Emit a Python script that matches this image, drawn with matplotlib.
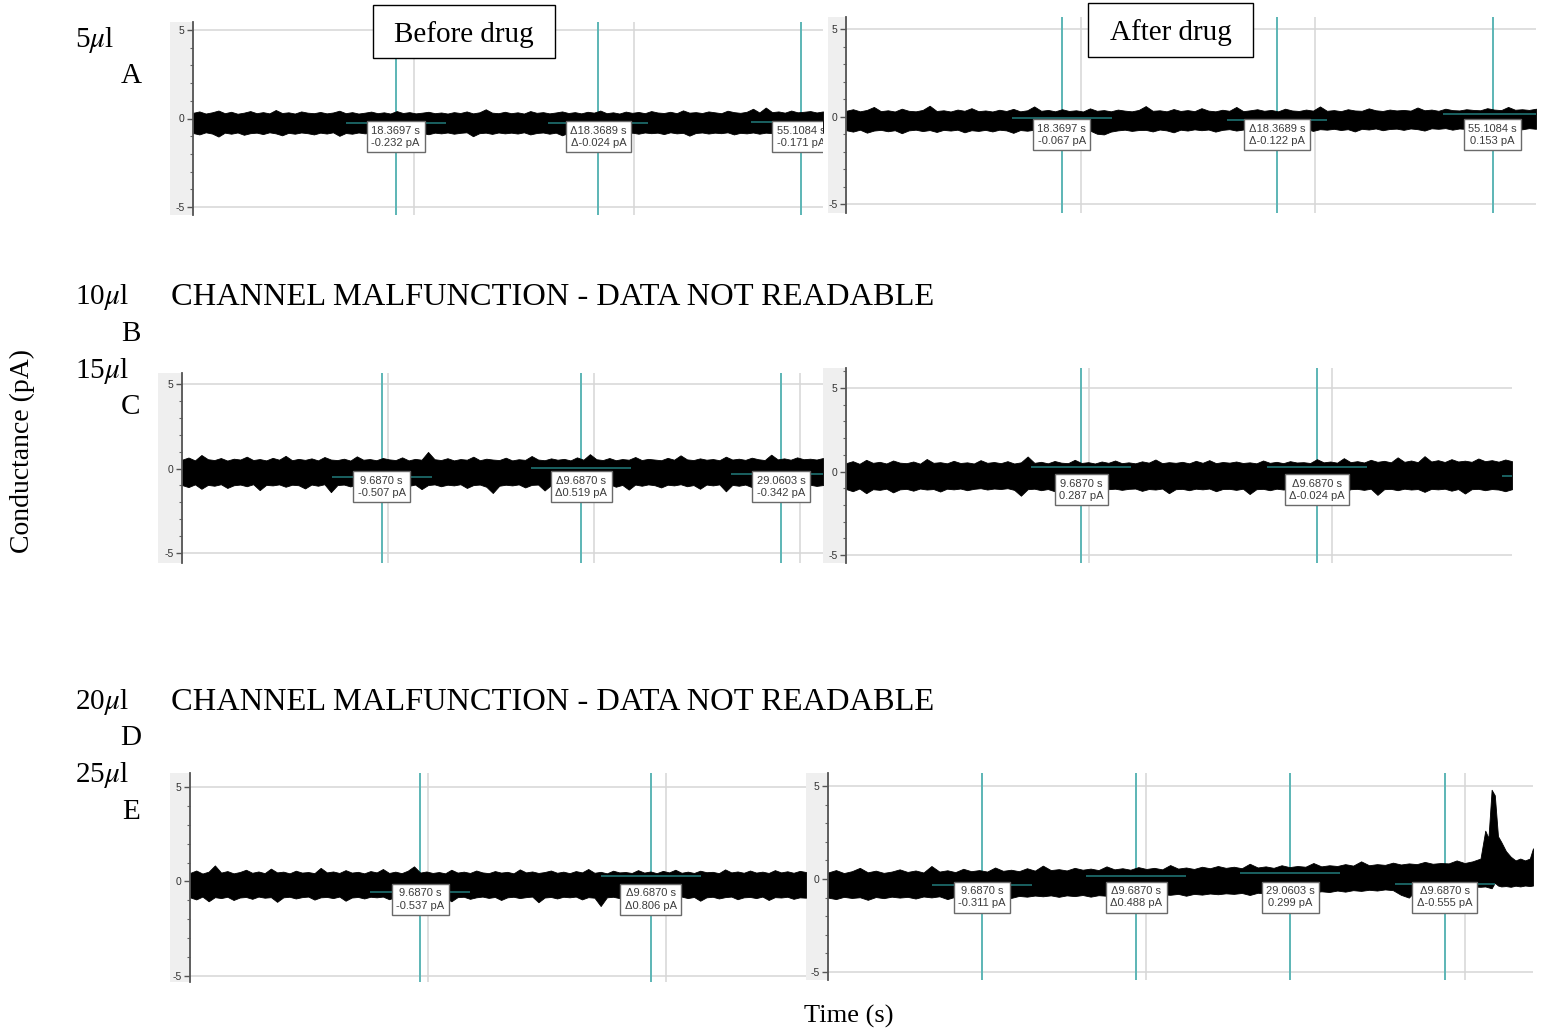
import numpy as np
import matplotlib
matplotlib.use("Agg")
import matplotlib.pyplot as plt
from matplotlib.patches import Rectangle
from matplotlib.ticker import MultipleLocator

plt.rcParams['mathtext.fontset'] = 'stix'
SERIF = ['Liberation Serif', 'DejaVu Serif']
SANS = ['Liberation Sans', 'DejaVu Sans']

# ---------------- data ----------------
# 5 ul, before drug : upper / lower envelope of the current trace (pA)
AL_T = 57.1
AL_up = [0.32,0.40,0.28,0.35,0.45,0.30,0.38,0.27,0.33,0.42,
         0.30,0.36,0.29,0.48,0.31,0.35,0.28,0.40,0.33,0.30,
         0.37,0.29,0.34,0.44,0.30,0.36,0.28,0.33,0.39,0.30,
         0.35,0.28,0.42,0.31,0.36,0.29,0.33,0.38,0.30,0.34,
         0.28,0.36,0.31,0.40,0.29,0.35,0.52,0.33,0.30,0.38,
         0.30,0.35,0.28,0.42,0.32,0.36,0.29,0.34,0.40,0.31,
         0.36,0.29,0.38,0.33,0.45,0.30,0.35,0.28,0.39,0.32,
         0.37,0.30,0.42,0.34,0.31,0.38,0.30,0.46,0.33,0.36,
         0.31,0.40,0.35,0.30,0.44,0.36,0.32,0.38,0.55,0.34,
         0.62,0.36,0.40,0.33,0.45,0.35,0.38,0.42,0.34,0.40]
AL_lo = [-0.82,-0.90,-0.78,-0.85,-1.02,-0.80,-0.86,-0.79,-0.92,-0.83,
         -0.80,-0.88,-0.78,-0.84,-0.95,-0.81,-0.86,-0.79,-0.83,-0.90,
         -0.80,-0.85,-0.78,-0.98,-0.82,-0.86,-0.79,-0.84,-0.80,-0.88,
         -0.78,-0.83,-0.93,-0.80,-0.85,-0.78,-0.82,-0.89,-0.80,-0.84,
         -0.79,-0.86,-0.81,-0.78,-1.00,-0.83,-0.80,-0.87,-0.79,-0.84,
         -0.80,-0.85,-0.78,-0.90,-0.82,-0.79,-0.86,-0.80,-0.95,-0.81,
         -0.84,-0.78,-0.83,-0.88,-0.80,-0.85,-0.79,-0.82,-0.92,-0.80,
         -0.86,-0.79,-0.83,-0.80,-0.88,-0.78,-0.84,-0.81,-0.97,-0.82,
         -0.79,-0.85,-0.80,-0.83,-0.78,-0.90,-0.81,-0.84,-0.79,-0.86,
         -0.80,-0.83,-0.88,-0.79,-0.84,-0.80,-0.92,-0.82,-0.85,-0.80]
AL_cur_t = [18.3697, 36.7386, 55.1084]
AL_cur_v = [-0.232, -0.256, -0.171]
AL_cur_lab = ["18.3697 s\n-0.232 pA", "\u039418.3689 s\n\u0394-0.024 pA", "55.1084 s\n-0.171 pA"]

# 5 ul, after drug
AR_T = 58.8
AR_up = [0.33,0.42,0.30,0.38,0.55,0.31,0.36,0.29,0.45,0.33,
         0.30,0.38,0.62,0.32,0.36,0.29,0.40,0.33,0.48,0.31,
         0.35,0.29,0.39,0.32,0.44,0.30,0.36,0.58,0.33,0.38,
         0.30,0.42,0.32,0.36,0.29,0.47,0.33,0.37,0.30,0.40,
         0.34,0.30,0.38,0.60,0.33,0.36,0.30,0.43,0.32,0.37,
         0.31,0.48,0.34,0.30,0.39,0.33,0.55,0.31,0.36,0.42,
         0.33,0.38,0.30,0.45,0.35,0.32,0.40,0.34,0.58,0.33,
         0.37,0.31,0.42,0.35,0.33,0.47,0.36,0.32,0.40,0.35,
         0.38,0.34,0.52,0.36,0.40,0.33,0.45,0.37,0.35,0.42,
         0.38,0.36,0.48,0.40,0.37,0.55,0.39,0.42,0.38,0.45]
AR_lo = [-0.78,-0.86,-0.75,-0.92,-0.80,-0.76,-0.84,-0.78,-0.95,-0.79,
         -0.75,-0.83,-0.77,-0.88,-0.76,-0.80,-0.75,-0.90,-0.78,-0.82,
         -0.76,-0.85,-0.75,-0.79,-0.93,-0.77,-0.81,-0.75,-0.84,-0.78,
         -0.76,-0.82,-0.75,-0.88,-0.77,-0.80,-0.98,-1.02,-0.86,-0.79,
         -0.75,-0.82,-0.77,-0.76,-0.85,-0.74,-0.79,-0.90,-0.75,-0.80,
         -0.73,-0.78,-0.74,-0.86,-0.76,-0.72,-0.80,-0.74,-0.77,-0.72,
         -0.84,-0.73,-0.76,-0.71,-0.79,-0.74,-0.70,-0.82,-0.72,-0.75,
         -0.70,-0.77,-0.72,-0.85,-0.70,-0.74,-0.68,-0.78,-0.71,-0.69,
         -0.76,-0.68,-0.72,-0.80,-0.67,-0.70,-0.66,-0.75,-0.68,-0.71,
         -0.65,-0.72,-0.67,-0.78,-0.66,-0.69,-0.64,-0.73,-0.66,-0.70]
AR_cur_t = [18.3697, 36.7386, 55.1084]
AR_cur_v = [-0.067, -0.189, 0.153]
AR_cur_lab = ["18.3697 s\n-0.067 pA", "\u039418.3689 s\n\u0394-0.122 pA", "55.1084 s\n0.153 pA"]

# 15 ul, before drug
CL_T = 31.1
CL_up = [0.52,0.65,0.48,0.80,0.55,0.50,0.62,0.47,0.58,0.53,
         0.70,0.50,0.56,0.48,0.63,0.52,0.75,0.49,0.57,0.51,
         0.60,0.48,0.68,0.53,0.50,0.58,0.47,0.72,0.52,0.56,
         0.49,0.62,0.54,0.50,0.66,0.48,0.57,0.52,0.98,0.55,
         0.50,0.61,0.48,0.56,0.52,0.70,0.49,0.58,0.53,0.50,
         0.64,0.48,0.55,0.51,0.74,0.53,0.49,0.60,0.52,0.57,
         0.48,0.66,0.52,0.85,0.55,0.50,0.62,0.49,0.56,0.52,
         0.68,0.50,0.57,0.53,0.49,0.63,0.52,0.78,0.54,0.50,
         0.60,0.52,0.56,0.49,0.70,0.53,0.58,0.51,0.64,0.55,
         0.50,0.82,0.54,0.60,0.52,0.66,0.55,0.58,0.53,0.62]
CL_lo = [-0.98,-1.10,-0.94,-1.20,-0.97,-1.02,-0.93,-1.15,-0.99,-0.95,
         -1.05,-0.93,-1.28,-0.97,-1.00,-0.94,-1.08,-0.96,-0.99,-1.18,
         -0.95,-1.02,-0.93,-1.40,-0.98,-0.95,-1.06,-0.94,-1.00,-1.12,
         -0.96,-0.99,-0.93,-1.10,-0.97,-1.03,-0.95,-1.22,-0.98,-0.94,
         -1.05,-0.96,-1.00,-0.93,-1.15,-0.98,-0.95,-1.08,-1.45,-1.02,
         -0.96,-1.00,-0.94,-1.12,-0.97,-0.95,-1.30,-0.98,-1.02,-0.94,
         -1.06,-0.96,-0.99,-1.18,-0.95,-1.00,-0.93,-1.08,-0.97,-1.25,
         -0.95,-1.02,-0.94,-0.99,-1.12,-0.96,-1.00,-0.93,-1.05,-0.98,
         -1.20,-0.95,-1.00,-0.94,-1.35,-0.97,-1.02,-0.95,-1.10,-0.98,
         -0.96,-1.05,-0.94,-1.15,-0.97,-1.00,-1.25,-0.96,-1.03,-0.98]
CL_cur_t = [9.6870, 19.3740, 29.0603]
CL_cur_v = [-0.507, 0.012, -0.342]
CL_cur_lab = ["9.6870 s\n-0.507 pA", "\u03949.6870 s\n\u03940.519 pA", "29.0603 s\n-0.342 pA"]

# 15 ul, after drug
CR_T = 27.4
CR_up = [0.50,0.62,0.46,0.70,0.52,0.58,0.48,0.66,0.53,0.50,
         0.60,0.47,0.75,0.52,0.56,0.49,0.64,0.51,0.55,0.48,
         0.68,0.52,0.57,0.50,0.62,0.48,0.55,0.90,0.52,0.58,
         0.49,0.63,0.53,0.50,0.70,0.51,0.56,0.48,0.60,0.52,
         0.66,0.50,0.55,0.49,0.61,0.53,0.72,0.50,0.56,0.52,
         0.58,0.49,0.64,0.52,0.68,0.50,0.57,0.53,0.60,0.51,
         0.55,0.49,0.66,0.52,0.58,0.50,0.62,0.54,0.56,0.51,
         0.74,0.55,0.60,0.53,0.80,0.56,0.62,0.54,0.70,0.58,
         0.64,0.55,0.85,0.58,0.66,0.56,0.92,0.60,0.68,0.57,
         0.74,0.60,0.65,0.58,0.78,0.62,0.68,0.59,0.72,0.62]
CR_lo = [-1.05,-1.18,-1.02,-1.30,-1.06,-1.10,-1.03,-1.25,-1.07,-1.04,
         -1.15,-1.02,-1.08,-1.05,-1.20,-1.03,-1.07,-1.02,-1.12,-1.04,
         -1.00,-1.08,-1.02,-1.05,-1.00,-1.10,-1.45,-1.06,-1.03,-1.12,
         -1.05,-1.18,-1.03,-1.07,-1.02,-1.15,-1.05,-1.03,-1.22,-1.06,
         -1.03,-1.10,-1.04,-1.02,-1.16,-1.05,-1.08,-1.02,-1.30,-1.06,
         -1.04,-1.12,-1.03,-1.07,-1.02,-1.18,-1.05,-1.04,-1.10,-1.03,
         -1.35,-1.06,-1.04,-1.12,-1.03,-1.08,-1.05,-1.20,-1.04,-1.07,
         -1.03,-1.14,-1.05,-1.02,-1.25,-1.06,-1.04,-1.10,-1.03,-1.40,
         -1.06,-1.04,-1.12,-1.03,-1.08,-1.05,-1.22,-1.04,-1.07,-1.03,
         -1.15,-1.05,-1.32,-1.06,-1.04,-1.12,-1.05,-1.08,-1.18,-1.06]
CR_cur_t = [9.6870, 19.3740, 29.0603]
CR_cur_v = [0.287, 0.263, -0.24]
CR_cur_lab = ["9.6870 s\n0.287 pA", "\u03949.6870 s\n\u0394-0.024 pA", ""]

# 25 ul, before drug
EL_T = 25.9
EL_up = [0.45,0.58,0.42,0.52,0.85,0.47,0.55,0.43,0.50,0.62,
         0.46,0.53,0.44,0.68,0.48,0.52,0.43,0.57,0.47,0.50,
         0.44,0.72,0.48,0.53,0.45,0.60,0.47,0.51,0.43,0.55,
         0.48,0.66,0.45,0.52,0.44,0.57,0.80,0.47,0.53,0.45,
         0.50,0.43,0.62,0.47,0.52,0.45,0.58,0.48,0.44,0.55,
         0.47,0.51,0.43,0.64,0.48,0.53,0.45,0.50,0.58,0.46,
         0.52,0.44,0.55,0.48,0.66,0.46,0.51,0.43,0.57,0.48,
         0.50,0.45,0.60,0.47,0.53,0.44,0.56,0.48,0.62,0.46,
         0.52,0.45,0.57,0.49,0.51,0.44,0.64,0.48,0.53,0.46,
         0.58,0.47,0.52,0.45,0.60,0.48,0.54,0.46,0.56,0.50]
EL_lo = [-0.84,-0.95,-0.80,-1.05,-0.83,-0.88,-0.81,-0.98,-0.85,-0.82,
         -0.92,-0.80,-0.86,-0.83,-1.08,-0.84,-0.81,-0.90,-0.83,-0.80,
         -0.96,-0.84,-0.82,-0.88,-0.80,-1.02,-0.85,-0.82,-0.90,-0.81,
         -0.84,-0.80,-0.94,-0.83,-0.86,-0.81,-1.00,-0.84,-0.82,-0.88,
         -0.80,-0.85,-1.05,-0.83,-0.81,-0.92,-0.84,-0.80,-0.87,-0.82,
         -0.98,-0.84,-0.81,-0.88,-0.83,-0.80,-1.10,-0.85,-0.82,-0.90,
         -0.81,-0.84,-0.80,-0.95,-0.83,-0.86,-1.30,-0.84,-0.81,-0.88,
         -0.82,-0.85,-0.80,-1.00,-0.83,-0.86,-0.81,-0.92,-0.84,-0.80,
         -0.88,-0.82,-1.02,-0.84,-0.81,-0.90,-0.83,-0.80,-0.94,-0.84,
         -0.82,-0.88,-0.80,-0.98,-0.83,-0.85,-0.81,-0.92,-0.84,-0.86]
EL_cur_t = [9.6870, 19.3740]
EL_cur_v = [-0.537, 0.269]
EL_cur_lab = ["9.6870 s\n-0.537 pA", "\u03949.6870 s\n\u03940.806 pA"]

# 25 ul, after drug (0.5 s bins up to 41 s, then the late burst)
ER_T = 44.3
ER_dt = 0.5
ER_up_base = [0.35,0.48,0.32,0.42,0.60,0.36,0.45,0.33,0.40,0.52,
              0.38,0.46,0.35,0.70,0.40,0.47,0.37,0.55,0.42,0.48,
              0.40,0.62,0.44,0.50,0.42,0.58,0.45,0.72,0.48,0.53,
              0.46,0.60,0.50,0.56,0.48,0.68,0.52,0.58,0.50,0.64,
              0.54,0.60,0.52,0.75,0.56,0.62,0.54,0.66,0.58,0.70,
              0.60,0.66,0.58,0.82,0.62,0.68,0.60,0.74,0.64,0.70,
              0.66,0.86,0.68,0.74,0.70,0.80,0.72,0.95,0.74,0.80,
              0.76,0.88,0.78,0.84,0.80,0.92,0.82,0.86,0.84,1.00,
              0.86,0.95,1.10]
ER_lo_base = [-1.00,-1.08,-0.96,-1.02,-0.98,-1.12,-0.97,-1.03,-0.95,-1.00,
              -0.96,-1.05,-0.94,-0.99,-0.93,-1.08,-0.95,-0.98,-0.92,-1.00,
              -0.92,-0.97,-0.90,-1.02,-0.91,-0.95,-0.89,-0.93,-0.88,-0.96,
              -0.88,-0.92,-0.86,-0.95,-0.87,-0.90,-0.85,-0.88,-0.84,-0.92,
              -0.83,-0.87,-0.82,-0.85,-0.80,-0.90,-0.80,-0.84,-0.78,-0.82,
              -0.77,-0.80,-0.75,-0.86,-0.74,-0.78,-0.72,-0.76,-0.70,-0.75,
              -0.68,-0.72,-0.66,-0.70,-0.62,-0.68,-0.60,-0.64,-0.58,-0.62,
              -0.56,-0.60,-0.85,-1.00,-0.55,-0.50,-0.48,-0.46,-0.44,-0.42,
              -0.42,-0.40,-0.42]
ER_t_burst = [41.3, 41.5, 41.7, 41.9, 42.1, 42.3, 42.6, 42.9, 43.2, 43.5, 43.8, 44.1, 44.3]
ER_up_burst = [2.6, 2.2, 4.8, 4.5, 2.3, 2.0, 1.5, 1.2, 1.0, 1.1, 1.0, 1.1, 1.65]
ER_lo_burst = [-0.40, -0.45, -0.50, -0.20, -0.35, -0.40, -0.38, -0.42, -0.36, -0.40, -0.35, -0.38, -0.35]
ER_cur_t = [9.6870, 19.3740, 29.0603, 38.7473]
ER_cur_v = [-0.311, 0.177, 0.299, -0.256]
ER_cur_lab = ["9.6870 s\n-0.311 pA", "\u03949.6870 s\n\u03940.488 pA", "29.0603 s\n0.299 pA", "\u03949.6870 s\n\u0394-0.555 pA"]

Y_TICKS = [-5, 0, 5]
Y_TICKLABELS = ["-5", "0", "5"]

# ---------------- layout / style ----------------
W, H = 1548, 1032
fig = plt.figure(figsize=(W / 100, H / 100), dpi=100)

TEAL = '#5cb5b5'
TEAL_DARK = '#1f7272'
GRID = '#d6d6d6'
STRIP = '#efefef'


def fig_rect(x0, y0, x1, y1):
    return [x0 / W, 1 - y1 / H, (x1 - x0) / W, (y1 - y0) / H]


def panel(px, strip_x0, ylim, T, step, t, up, lo, cur_t, cur_v, cur_lab):
    x0, y0, x1, y1 = px
    fig.add_artist(Rectangle((strip_x0 / W, 1 - y1 / H), (x0 - strip_x0) / W, (y1 - y0) / H,
                             transform=fig.transFigure, fc=STRIP, ec='none', zorder=-1))
    ax = fig.add_axes(fig_rect(x0, y0, x1, y1))
    ax.set_facecolor('none')
    ax.set_xlim(0, T)
    ax.set_ylim(*ylim)
    ax.set_yticks(Y_TICKS)
    ax.set_yticklabels(Y_TICKLABELS)
    ax.yaxis.set_minor_locator(MultipleLocator(1))
    ax.xaxis.set_major_locator(MultipleLocator(step))
    ax.tick_params(axis='x', bottom=False, labelbottom=False)
    ax.tick_params(axis='y', which='major', direction='out', length=4, width=1,
                   color='#555555', labelsize=7.5, labelcolor='#333333', pad=2)
    ax.tick_params(axis='y', which='minor', direction='out', length=2.5, width=0.8, color='#666666')
    for s in ['top', 'right', 'bottom']:
        ax.spines[s].set_visible(False)
    ax.spines['left'].set_color('#555555')
    ax.spines['left'].set_linewidth(1.3)
    ax.grid(True, which='major', color=GRID, lw=1.1)
    ax.set_axisbelow(True)
    for lab in ax.get_yticklabels():
        lab.set_family(SANS)

    ax.fill_between(t, lo, up, color='black', lw=0.6, zorder=2)

    half = 50.0 * T / (x1 - x0)
    for ct, cv, cl in zip(cur_t, cur_v, cur_lab):
        ax.axvline(ct, color=TEAL, lw=1.4, zorder=1.5)
        ax.plot([ct - half, ct + half], [cv, cv], color=TEAL_DARK, lw=1.2, zorder=4,
                solid_capstyle='butt')
        if cl:
            ax.annotate(cl, xy=(ct, 0), xytext=(0, -7), textcoords='offset pixels',
                        ha='center', va='top', fontsize=8, family=SANS, color='#3c3c3c',
                        linespacing=1.3, zorder=5, clip_on=True,
                        bbox=dict(boxstyle='square,pad=0.4', fc='white', ec='#6a6a6a', lw=1.0))
    return ax


panel((193, 22, 823, 215), 170, (-5.45, 5.45), AL_T, 20,
      np.linspace(0, AL_T, len(AL_up)), AL_up, AL_lo, AL_cur_t, AL_cur_v, AL_cur_lab)
panel((846, 17, 1536, 213), 828, (-5.51, 5.69), AR_T, 20,
      np.linspace(0, AR_T, len(AR_up)), AR_up, AR_lo, AR_cur_t, AR_cur_v, AR_cur_lab)
panel((182, 373, 823, 563), 158, (-5.59, 5.65), CL_T, 10,
      np.linspace(0, CL_T, len(CL_up)), CL_up, CL_lo, CL_cur_t, CL_cur_v, CL_cur_lab)
panel((846, 368, 1512, 563), 823, (-5.48, 6.2), CR_T, 10,
      np.linspace(0, CR_T, len(CR_up)), CR_up, CR_lo, CR_cur_t, CR_cur_v, CR_cur_lab)
panel((190, 773, 806, 982), 170, (-5.32, 5.74), EL_T, 10,
      np.linspace(0, EL_T, len(EL_up)), EL_up, EL_lo, EL_cur_t, EL_cur_v, EL_cur_lab)
ER_t = np.concatenate([np.arange(len(ER_up_base)) * ER_dt, ER_t_burst])
panel((828, 773, 1533, 980), 806, (-5.43, 5.70), ER_T, 20,
      ER_t, ER_up_base + ER_up_burst, ER_lo_base + ER_lo_burst,
      ER_cur_t, ER_cur_v, ER_cur_lab)


# ---------------- figure text ----------------
def ftext(x, y, s, **kw):
    kw.setdefault('family', SERIF)
    kw.setdefault('fontsize', 21)
    kw.setdefault('color', 'black')
    fig.text(x / W, 1 - y / H, s, **kw)


for lab, y in [('5', 40), ('10', 297), ('15', 371), ('20', 702), ('25', 775)]:
    ftext(75, y, lab + r'$\mu$l', ha='left', va='center')
for lab, y in [('A', 76), ('B', 334), ('C', 407), ('D', 738), ('E', 812)]:
    ftext(131, y, lab, ha='center', va='center')
for y in [297, 702]:
    ftext(171, y, 'CHANNEL MALFUNCTION - DATA NOT READABLE', ha='left', va='center', fontsize=23.4)

for (bx0, by0, bx1, by1), s in [((373, 5, 555, 58), 'Before drug'), ((1088, 3, 1253, 57), 'After drug')]:
    fig.add_artist(Rectangle((bx0 / W, 1 - by1 / H), (bx1 - bx0) / W, (by1 - by0) / H,
                             transform=fig.transFigure, fc='white', ec='black', lw=1.0, zorder=6))
    fig.text((bx0 + bx1) / 2 / W, 1 - ((by0 + by1) / 2 + 3) / H, s, ha='center', va='center',
             family=SERIF, fontsize=21, zorder=7)

ftext(22, 451, 'Conductance (pA)', ha='center', va='center', rotation=90, fontsize=20)
ftext(849, 1016, 'Time (s)', ha='center', va='center', fontsize=19)

fig.savefig('out.png', dpi=100)
